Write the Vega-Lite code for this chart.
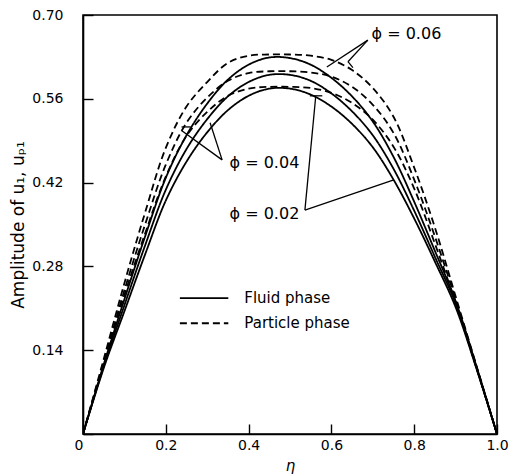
{
  "$schema": "https://vega.github.io/schema/vega-lite/v6.json",
  "width": 414,
  "height": 419,
  "autosize": "none",
  "padding": {"left": 83, "top": 15, "right": 12, "bottom": 41},
  "background": "white",
  "config": {
    "view": {"stroke": "black", "strokeWidth": 1.6},
    "axis": {
      "grid": false,
      "domainColor": "black",
      "domainWidth": 1.6,
      "tickColor": "black",
      "tickWidth": 1.4,
      "labelColor": "black",
      "titleColor": "black",
      "labelFont": "DejaVu Sans",
      "titleFont": "DejaVu Sans",
      "labelFontSize": 14,
      "titleFontWeight": "normal"
    }
  },
  "datasets": {
    "curves": [
      {"eta": 0, "amp": 0, "phase": "Fluid phase", "phi": "0.02"},
      {"eta": 0.05, "amp": 0.11, "phase": "Fluid phase", "phi": "0.02"},
      {"eta": 0.1, "amp": 0.205, "phase": "Fluid phase", "phi": "0.02"},
      {"eta": 0.15, "amp": 0.3, "phase": "Fluid phase", "phi": "0.02"},
      {"eta": 0.2, "amp": 0.39, "phase": "Fluid phase", "phi": "0.02"},
      {"eta": 0.25, "amp": 0.455, "phase": "Fluid phase", "phi": "0.02"},
      {"eta": 0.3, "amp": 0.504, "phase": "Fluid phase", "phi": "0.02"},
      {"eta": 0.35, "amp": 0.541, "phase": "Fluid phase", "phi": "0.02"},
      {"eta": 0.4, "amp": 0.565, "phase": "Fluid phase", "phi": "0.02"},
      {"eta": 0.45, "amp": 0.577, "phase": "Fluid phase", "phi": "0.02"},
      {"eta": 0.5, "amp": 0.577, "phase": "Fluid phase", "phi": "0.02"},
      {"eta": 0.55, "amp": 0.567, "phase": "Fluid phase", "phi": "0.02"},
      {"eta": 0.6, "amp": 0.547, "phase": "Fluid phase", "phi": "0.02"},
      {"eta": 0.65, "amp": 0.518, "phase": "Fluid phase", "phi": "0.02"},
      {"eta": 0.7, "amp": 0.479, "phase": "Fluid phase", "phi": "0.02"},
      {"eta": 0.75, "amp": 0.425, "phase": "Fluid phase", "phi": "0.02"},
      {"eta": 0.8, "amp": 0.36, "phase": "Fluid phase", "phi": "0.02"},
      {"eta": 0.85, "amp": 0.288, "phase": "Fluid phase", "phi": "0.02"},
      {"eta": 0.9, "amp": 0.212, "phase": "Fluid phase", "phi": "0.02"},
      {"eta": 0.95, "amp": 0.11, "phase": "Fluid phase", "phi": "0.02"},
      {"eta": 1.0, "amp": 0, "phase": "Fluid phase", "phi": "0.02"},

      {"eta": 0, "amp": 0, "phase": "Fluid phase", "phi": "0.04"},
      {"eta": 0.05, "amp": 0.113, "phase": "Fluid phase", "phi": "0.04"},
      {"eta": 0.1, "amp": 0.215, "phase": "Fluid phase", "phi": "0.04"},
      {"eta": 0.15, "amp": 0.315, "phase": "Fluid phase", "phi": "0.04"},
      {"eta": 0.2, "amp": 0.408, "phase": "Fluid phase", "phi": "0.04"},
      {"eta": 0.25, "amp": 0.476, "phase": "Fluid phase", "phi": "0.04"},
      {"eta": 0.3, "amp": 0.526, "phase": "Fluid phase", "phi": "0.04"},
      {"eta": 0.35, "amp": 0.564, "phase": "Fluid phase", "phi": "0.04"},
      {"eta": 0.4, "amp": 0.588, "phase": "Fluid phase", "phi": "0.04"},
      {"eta": 0.45, "amp": 0.6, "phase": "Fluid phase", "phi": "0.04"},
      {"eta": 0.5, "amp": 0.6, "phase": "Fluid phase", "phi": "0.04"},
      {"eta": 0.55, "amp": 0.59, "phase": "Fluid phase", "phi": "0.04"},
      {"eta": 0.6, "amp": 0.569, "phase": "Fluid phase", "phi": "0.04"},
      {"eta": 0.65, "amp": 0.539, "phase": "Fluid phase", "phi": "0.04"},
      {"eta": 0.7, "amp": 0.499, "phase": "Fluid phase", "phi": "0.04"},
      {"eta": 0.75, "amp": 0.443, "phase": "Fluid phase", "phi": "0.04"},
      {"eta": 0.8, "amp": 0.373, "phase": "Fluid phase", "phi": "0.04"},
      {"eta": 0.85, "amp": 0.296, "phase": "Fluid phase", "phi": "0.04"},
      {"eta": 0.9, "amp": 0.218, "phase": "Fluid phase", "phi": "0.04"},
      {"eta": 0.95, "amp": 0.112, "phase": "Fluid phase", "phi": "0.04"},
      {"eta": 1.0, "amp": 0, "phase": "Fluid phase", "phi": "0.04"},

      {"eta": 0, "amp": 0, "phase": "Fluid phase", "phi": "0.06"},
      {"eta": 0.05, "amp": 0.116, "phase": "Fluid phase", "phi": "0.06"},
      {"eta": 0.1, "amp": 0.225, "phase": "Fluid phase", "phi": "0.06"},
      {"eta": 0.15, "amp": 0.33, "phase": "Fluid phase", "phi": "0.06"},
      {"eta": 0.2, "amp": 0.428, "phase": "Fluid phase", "phi": "0.06"},
      {"eta": 0.25, "amp": 0.499, "phase": "Fluid phase", "phi": "0.06"},
      {"eta": 0.3, "amp": 0.552, "phase": "Fluid phase", "phi": "0.06"},
      {"eta": 0.35, "amp": 0.592, "phase": "Fluid phase", "phi": "0.06"},
      {"eta": 0.4, "amp": 0.617, "phase": "Fluid phase", "phi": "0.06"},
      {"eta": 0.45, "amp": 0.629, "phase": "Fluid phase", "phi": "0.06"},
      {"eta": 0.5, "amp": 0.628, "phase": "Fluid phase", "phi": "0.06"},
      {"eta": 0.55, "amp": 0.617, "phase": "Fluid phase", "phi": "0.06"},
      {"eta": 0.6, "amp": 0.595, "phase": "Fluid phase", "phi": "0.06"},
      {"eta": 0.65, "amp": 0.564, "phase": "Fluid phase", "phi": "0.06"},
      {"eta": 0.7, "amp": 0.522, "phase": "Fluid phase", "phi": "0.06"},
      {"eta": 0.75, "amp": 0.463, "phase": "Fluid phase", "phi": "0.06"},
      {"eta": 0.8, "amp": 0.388, "phase": "Fluid phase", "phi": "0.06"},
      {"eta": 0.85, "amp": 0.306, "phase": "Fluid phase", "phi": "0.06"},
      {"eta": 0.9, "amp": 0.222, "phase": "Fluid phase", "phi": "0.06"},
      {"eta": 0.95, "amp": 0.114, "phase": "Fluid phase", "phi": "0.06"},
      {"eta": 1.0, "amp": 0, "phase": "Fluid phase", "phi": "0.06"},

      {"eta": 0, "amp": 0, "phase": "Particle phase", "phi": "0.02"},
      {"eta": 0.05, "amp": 0.118, "phase": "Particle phase", "phi": "0.02"},
      {"eta": 0.1, "amp": 0.232, "phase": "Particle phase", "phi": "0.02"},
      {"eta": 0.15, "amp": 0.335, "phase": "Particle phase", "phi": "0.02"},
      {"eta": 0.2, "amp": 0.43, "phase": "Particle phase", "phi": "0.02"},
      {"eta": 0.25, "amp": 0.498, "phase": "Particle phase", "phi": "0.02"},
      {"eta": 0.3, "amp": 0.538, "phase": "Particle phase", "phi": "0.02"},
      {"eta": 0.35, "amp": 0.565, "phase": "Particle phase", "phi": "0.02"},
      {"eta": 0.4, "amp": 0.577, "phase": "Particle phase", "phi": "0.02"},
      {"eta": 0.45, "amp": 0.58, "phase": "Particle phase", "phi": "0.02"},
      {"eta": 0.5, "amp": 0.58, "phase": "Particle phase", "phi": "0.02"},
      {"eta": 0.55, "amp": 0.578, "phase": "Particle phase", "phi": "0.02"},
      {"eta": 0.6, "amp": 0.57, "phase": "Particle phase", "phi": "0.02"},
      {"eta": 0.65, "amp": 0.553, "phase": "Particle phase", "phi": "0.02"},
      {"eta": 0.7, "amp": 0.525, "phase": "Particle phase", "phi": "0.02"},
      {"eta": 0.75, "amp": 0.48, "phase": "Particle phase", "phi": "0.02"},
      {"eta": 0.8, "amp": 0.41, "phase": "Particle phase", "phi": "0.02"},
      {"eta": 0.85, "amp": 0.318, "phase": "Particle phase", "phi": "0.02"},
      {"eta": 0.9, "amp": 0.22, "phase": "Particle phase", "phi": "0.02"},
      {"eta": 0.95, "amp": 0.111, "phase": "Particle phase", "phi": "0.02"},
      {"eta": 1.0, "amp": 0, "phase": "Particle phase", "phi": "0.02"},

      {"eta": 0, "amp": 0, "phase": "Particle phase", "phi": "0.04"},
      {"eta": 0.05, "amp": 0.12, "phase": "Particle phase", "phi": "0.04"},
      {"eta": 0.1, "amp": 0.24, "phase": "Particle phase", "phi": "0.04"},
      {"eta": 0.15, "amp": 0.35, "phase": "Particle phase", "phi": "0.04"},
      {"eta": 0.2, "amp": 0.45, "phase": "Particle phase", "phi": "0.04"},
      {"eta": 0.25, "amp": 0.52, "phase": "Particle phase", "phi": "0.04"},
      {"eta": 0.3, "amp": 0.562, "phase": "Particle phase", "phi": "0.04"},
      {"eta": 0.35, "amp": 0.59, "phase": "Particle phase", "phi": "0.04"},
      {"eta": 0.4, "amp": 0.603, "phase": "Particle phase", "phi": "0.04"},
      {"eta": 0.45, "amp": 0.606, "phase": "Particle phase", "phi": "0.04"},
      {"eta": 0.5, "amp": 0.606, "phase": "Particle phase", "phi": "0.04"},
      {"eta": 0.55, "amp": 0.604, "phase": "Particle phase", "phi": "0.04"},
      {"eta": 0.6, "amp": 0.597, "phase": "Particle phase", "phi": "0.04"},
      {"eta": 0.65, "amp": 0.58, "phase": "Particle phase", "phi": "0.04"},
      {"eta": 0.7, "amp": 0.55, "phase": "Particle phase", "phi": "0.04"},
      {"eta": 0.75, "amp": 0.503, "phase": "Particle phase", "phi": "0.04"},
      {"eta": 0.8, "amp": 0.425, "phase": "Particle phase", "phi": "0.04"},
      {"eta": 0.85, "amp": 0.33, "phase": "Particle phase", "phi": "0.04"},
      {"eta": 0.9, "amp": 0.225, "phase": "Particle phase", "phi": "0.04"},
      {"eta": 0.95, "amp": 0.113, "phase": "Particle phase", "phi": "0.04"},
      {"eta": 1.0, "amp": 0, "phase": "Particle phase", "phi": "0.04"},

      {"eta": 0, "amp": 0, "phase": "Particle phase", "phi": "0.06"},
      {"eta": 0.05, "amp": 0.125, "phase": "Particle phase", "phi": "0.06"},
      {"eta": 0.1, "amp": 0.252, "phase": "Particle phase", "phi": "0.06"},
      {"eta": 0.15, "amp": 0.37, "phase": "Particle phase", "phi": "0.06"},
      {"eta": 0.2, "amp": 0.478, "phase": "Particle phase", "phi": "0.06"},
      {"eta": 0.25, "amp": 0.547, "phase": "Particle phase", "phi": "0.06"},
      {"eta": 0.3, "amp": 0.588, "phase": "Particle phase", "phi": "0.06"},
      {"eta": 0.35, "amp": 0.62, "phase": "Particle phase", "phi": "0.06"},
      {"eta": 0.4, "amp": 0.632, "phase": "Particle phase", "phi": "0.06"},
      {"eta": 0.45, "amp": 0.634, "phase": "Particle phase", "phi": "0.06"},
      {"eta": 0.5, "amp": 0.634, "phase": "Particle phase", "phi": "0.06"},
      {"eta": 0.55, "amp": 0.632, "phase": "Particle phase", "phi": "0.06"},
      {"eta": 0.6, "amp": 0.625, "phase": "Particle phase", "phi": "0.06"},
      {"eta": 0.65, "amp": 0.608, "phase": "Particle phase", "phi": "0.06"},
      {"eta": 0.7, "amp": 0.578, "phase": "Particle phase", "phi": "0.06"},
      {"eta": 0.75, "amp": 0.53, "phase": "Particle phase", "phi": "0.06"},
      {"eta": 0.8, "amp": 0.445, "phase": "Particle phase", "phi": "0.06"},
      {"eta": 0.85, "amp": 0.345, "phase": "Particle phase", "phi": "0.06"},
      {"eta": 0.9, "amp": 0.23, "phase": "Particle phase", "phi": "0.06"},
      {"eta": 0.95, "amp": 0.115, "phase": "Particle phase", "phi": "0.06"},
      {"eta": 1.0, "amp": 0, "phase": "Particle phase", "phi": "0.06"}
    ],
    "leaders": [
      {"x": 0.688, "y": 0.658, "x2": 0.589, "y2": 0.613},
      {"x": 0.688, "y": 0.658, "x2": 0.64, "y2": 0.622},
      {"x": 0.64, "y": 0.622, "x2": 0.652, "y2": 0.612},
      {"x": 0.336, "y": 0.458, "x2": 0.238, "y2": 0.507},
      {"x": 0.238, "y": 0.513, "x2": 0.26, "y2": 0.513},
      {"x": 0.336, "y": 0.458, "x2": 0.307, "y2": 0.52},
      {"x": 0.536, "y": 0.374, "x2": 0.562, "y2": 0.563},
      {"x": 0.548, "y": 0.565, "x2": 0.578, "y2": 0.565},
      {"x": 0.536, "y": 0.374, "x2": 0.749, "y2": 0.424}
    ],
    "labels": [
      {"x": 0.697, "y": 0.668, "text": "ϕ = 0.06"},
      {"x": 0.354, "y": 0.453, "text": "ϕ = 0.04"},
      {"x": 0.354, "y": 0.368, "text": "ϕ = 0.02"}
    ],
    "legend": [
      {"x": 0.234, "x2": 0.351, "y": 0.227, "phase": "Fluid phase"},
      {"x": 0.234, "x2": 0.351, "y": 0.185, "phase": "Particle phase"}
    ]
  },
  "layer": [
    {
      "data": {"name": "curves"},
      "mark": {"type": "line", "interpolate": "catmull-rom", "color": "black", "strokeWidth": 1.8, "clip": true},
      "encoding": {
        "x": {
          "field": "eta", "type": "quantitative",
          "scale": {"domain": [0, 1], "nice": false},
          "axis": {
            "values": [0, 0.2, 0.4, 0.6, 0.8, 1.0],
            "labelExpr": "datum.value == 0 ? '0' : format(datum.value, '.1f')",
            "labelAlign": {"condition": {"test": "datum.value == 0", "value": "right"}, "value": "center"},
            "labelFlush": false,
            "tickSize": -10,
            "labelPadding": 14,
            "title": "η",
            "titleFontStyle": "italic",
            "titleFontSize": 15,
            "titlePadding": 6
          }
        },
        "y": {
          "field": "amp", "type": "quantitative",
          "scale": {"domain": [0, 0.7], "nice": false},
          "axis": {
            "values": [0, 0.14, 0.28, 0.42, 0.56, 0.70],
            "labelExpr": "datum.value == 0 ? '' : format(datum.value, '.2f')",
            "tickSize": -10,
            "labelPadding": 30,
            "title": "Amplitude of u₁, uₚ₁",
            "titleFontSize": 17,
            "titlePadding": 4
          }
        },
        "detail": {"field": "phi"},
        "strokeDash": {
          "field": "phase", "type": "nominal",
          "scale": {"domain": ["Fluid phase", "Particle phase"], "range": [[1, 0], [7, 4]]},
          "legend": null
        },
        "order": {"field": "eta", "type": "quantitative"}
      }
    },
    {
      "data": {"name": "leaders"},
      "mark": {"type": "rule", "color": "black", "strokeWidth": 1.3},
      "encoding": {
        "x": {"field": "x", "type": "quantitative"},
        "y": {"field": "y", "type": "quantitative"},
        "x2": {"field": "x2"},
        "y2": {"field": "y2"}
      }
    },
    {
      "data": {"name": "labels"},
      "mark": {"type": "text", "align": "left", "baseline": "middle", "font": "DejaVu Sans", "fontSize": 16, "color": "black"},
      "encoding": {
        "x": {"field": "x", "type": "quantitative"},
        "y": {"field": "y", "type": "quantitative"},
        "text": {"field": "text"}
      }
    },
    {
      "data": {"name": "legend"},
      "mark": {"type": "rule", "color": "black", "strokeWidth": 1.8},
      "encoding": {
        "x": {"field": "x", "type": "quantitative"},
        "x2": {"field": "x2"},
        "y": {"field": "y", "type": "quantitative"},
        "strokeDash": {
          "field": "phase", "type": "nominal",
          "scale": {"domain": ["Fluid phase", "Particle phase"], "range": [[1, 0], [7, 4]]},
          "legend": null
        }
      }
    },
    {
      "data": {"name": "legend"},
      "mark": {"type": "text", "align": "left", "baseline": "middle", "dx": 16, "font": "DejaVu Sans", "fontSize": 15, "color": "black"},
      "encoding": {
        "x": {"field": "x2", "type": "quantitative"},
        "y": {"field": "y", "type": "quantitative"},
        "text": {"field": "phase"}
      }
    }
  ]
}
